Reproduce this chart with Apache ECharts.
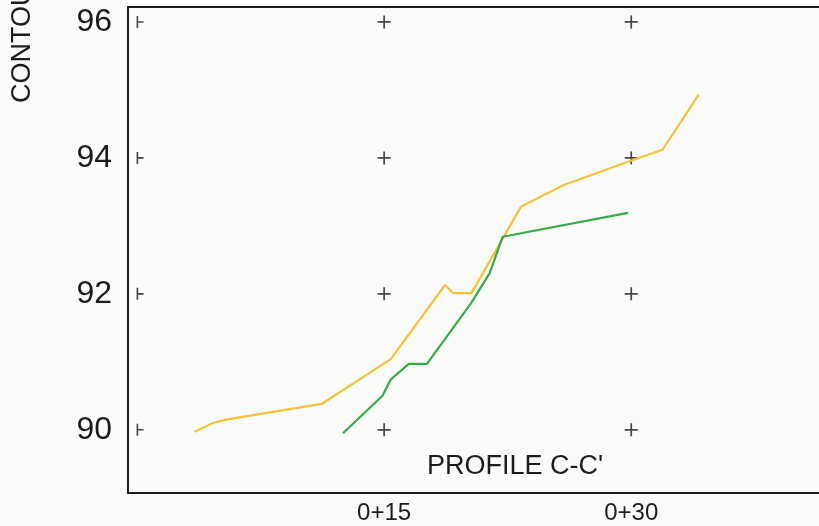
<!DOCTYPE html>
<html>
<head>
<meta charset="utf-8">
<title>PROFILE C-C'</title>
<script src="https://cdn.jsdelivr.net/npm/echarts@6/dist/echarts.min.js"></script>
<style>
    html, body { margin: 0; padding: 0; background: #fbfbf9; }
    #chart { width: 819px; height: 526px; }
</style>
</head>
<body>
<div id="chart"></div>
<script>
'use strict';

// ---- data ----
const yTicks = [90, 92, 94, 96];
const xTicks = [15, 30];
const crossX = [15, 30];   // full crosses; station 0 gets the half mark

// upper (yellow) profile: [station, elevation]
const upperStation = [3.5, 4.6, 5.4, 11.2, 15.4, 18.7, 19.2, 20.3, 23.3, 25.9, 30.1, 31.9, 34.1];
const upperElev    = [89.97, 90.10, 90.15, 90.38, 91.04, 92.13, 92.01, 92.01, 93.28, 93.60, 93.97, 94.12, 94.93];

// lower (green) profile
const lowerStation = [12.5, 14.9, 15.4, 16.5, 17.6, 20.3, 21.4, 22.2, 29.8];
const lowerElev    = [89.95, 90.50, 90.74, 90.97, 90.97, 91.87, 92.30, 92.84, 93.19];

const INK = "#1c1c1c";
const FONT = "Liberation Sans, Arial, sans-serif";
const pair = (xs, ys) => xs.map((x, i) => [x, ys[i]]);

(function () {
    let crosses = [];
    for (let i = 0; i < crossX.length; i++) {
        for (let j = 0; j < yTicks.length; j++) {
            crosses.push([crossX[i], yTicks[j]]);
        }
    }
    const edgeMarks = yTicks.map((y) => [0, y]);

    const option = {
        backgroundColor: "#fbfbf9",
        animation: false,
        grid: { left: 128, right: 0, top: 7, bottom: 33 },
        xAxis: [{
            type: "value",
            min: -0.55,
            max: 41.4,
            axisLine: { show: true, onZero: false, lineStyle: { color: INK, width: 2 } },
            axisTick: { show: false },
            splitLine: { show: false },
            axisLabel: {
                customValues: xTicks,
                formatter: (v) => "0+" + v,
                color: INK, fontFamily: FONT, fontSize: 24, margin: 8
            }
        }, {
            // top border only
            type: "value",
            position: "top",
            min: -0.55,
            max: 41.4,
            axisLine: { show: true, onZero: false, lineStyle: { color: INK, width: 2 } },
            axisTick: { show: false },
            axisLabel: { show: false },
            splitLine: { show: false }
        }],
        yAxis: {
            type: "value",
            min: 89.07,
            max: 96.22,
            axisLine: { show: true, onZero: false, lineStyle: { color: INK, width: 2 } },
            axisTick: { show: false },
            splitLine: { show: false },
            axisLabel: {
                customValues: yTicks,
                color: INK, fontFamily: FONT, fontSize: 32, margin: 16
            }
        },
        graphic: [{
            type: "text",
            x: 23, y: 103,
            rotation: Math.PI / 2,
            style: {
                text: "CONTOUR ELEVATION",
                fill: INK, font: "27px " + FONT,
                align: "left", verticalAlign: "middle"
            }
        }, {
            type: "text",
            x: 515, y: 467,
            style: {
                text: "PROFILE C-C'",
                fill: INK, font: "27px " + FONT,
                align: "center", verticalAlign: "middle"
            }
        }],
        series: [{
            type: "scatter",
            data: crosses,
            symbol: "path://M5.2,0H6.8V5.2H12V6.8H6.8V12H5.2V6.8H0V5.2H5.2Z",
            symbolSize: 13,
            itemStyle: { color: INK },
            silent: true
        }, {
            // half crosses along the left edge
            type: "scatter",
            data: edgeMarks,
            symbol: "path://M0,0H1.6V5.2H6.8V6.8H1.6V12H0Z",
            symbolSize: [7, 12],
            symbolOffset: [3, 0],
            itemStyle: { color: INK },
            silent: true
        }, {
            type: "line",
            data: pair(upperStation, upperElev),
            showSymbol: false,
            lineStyle: { color: "#f3c43a", width: 2.2 }
        }, {
            type: "line",
            data: pair(lowerStation, lowerElev),
            showSymbol: false,
            lineStyle: { color: "#36ab47", width: 2.2 }
        }]
    };

    const chart = echarts.init(document.getElementById("chart"));
    chart.setOption(option);
})();
</script>
</body>
</html>
